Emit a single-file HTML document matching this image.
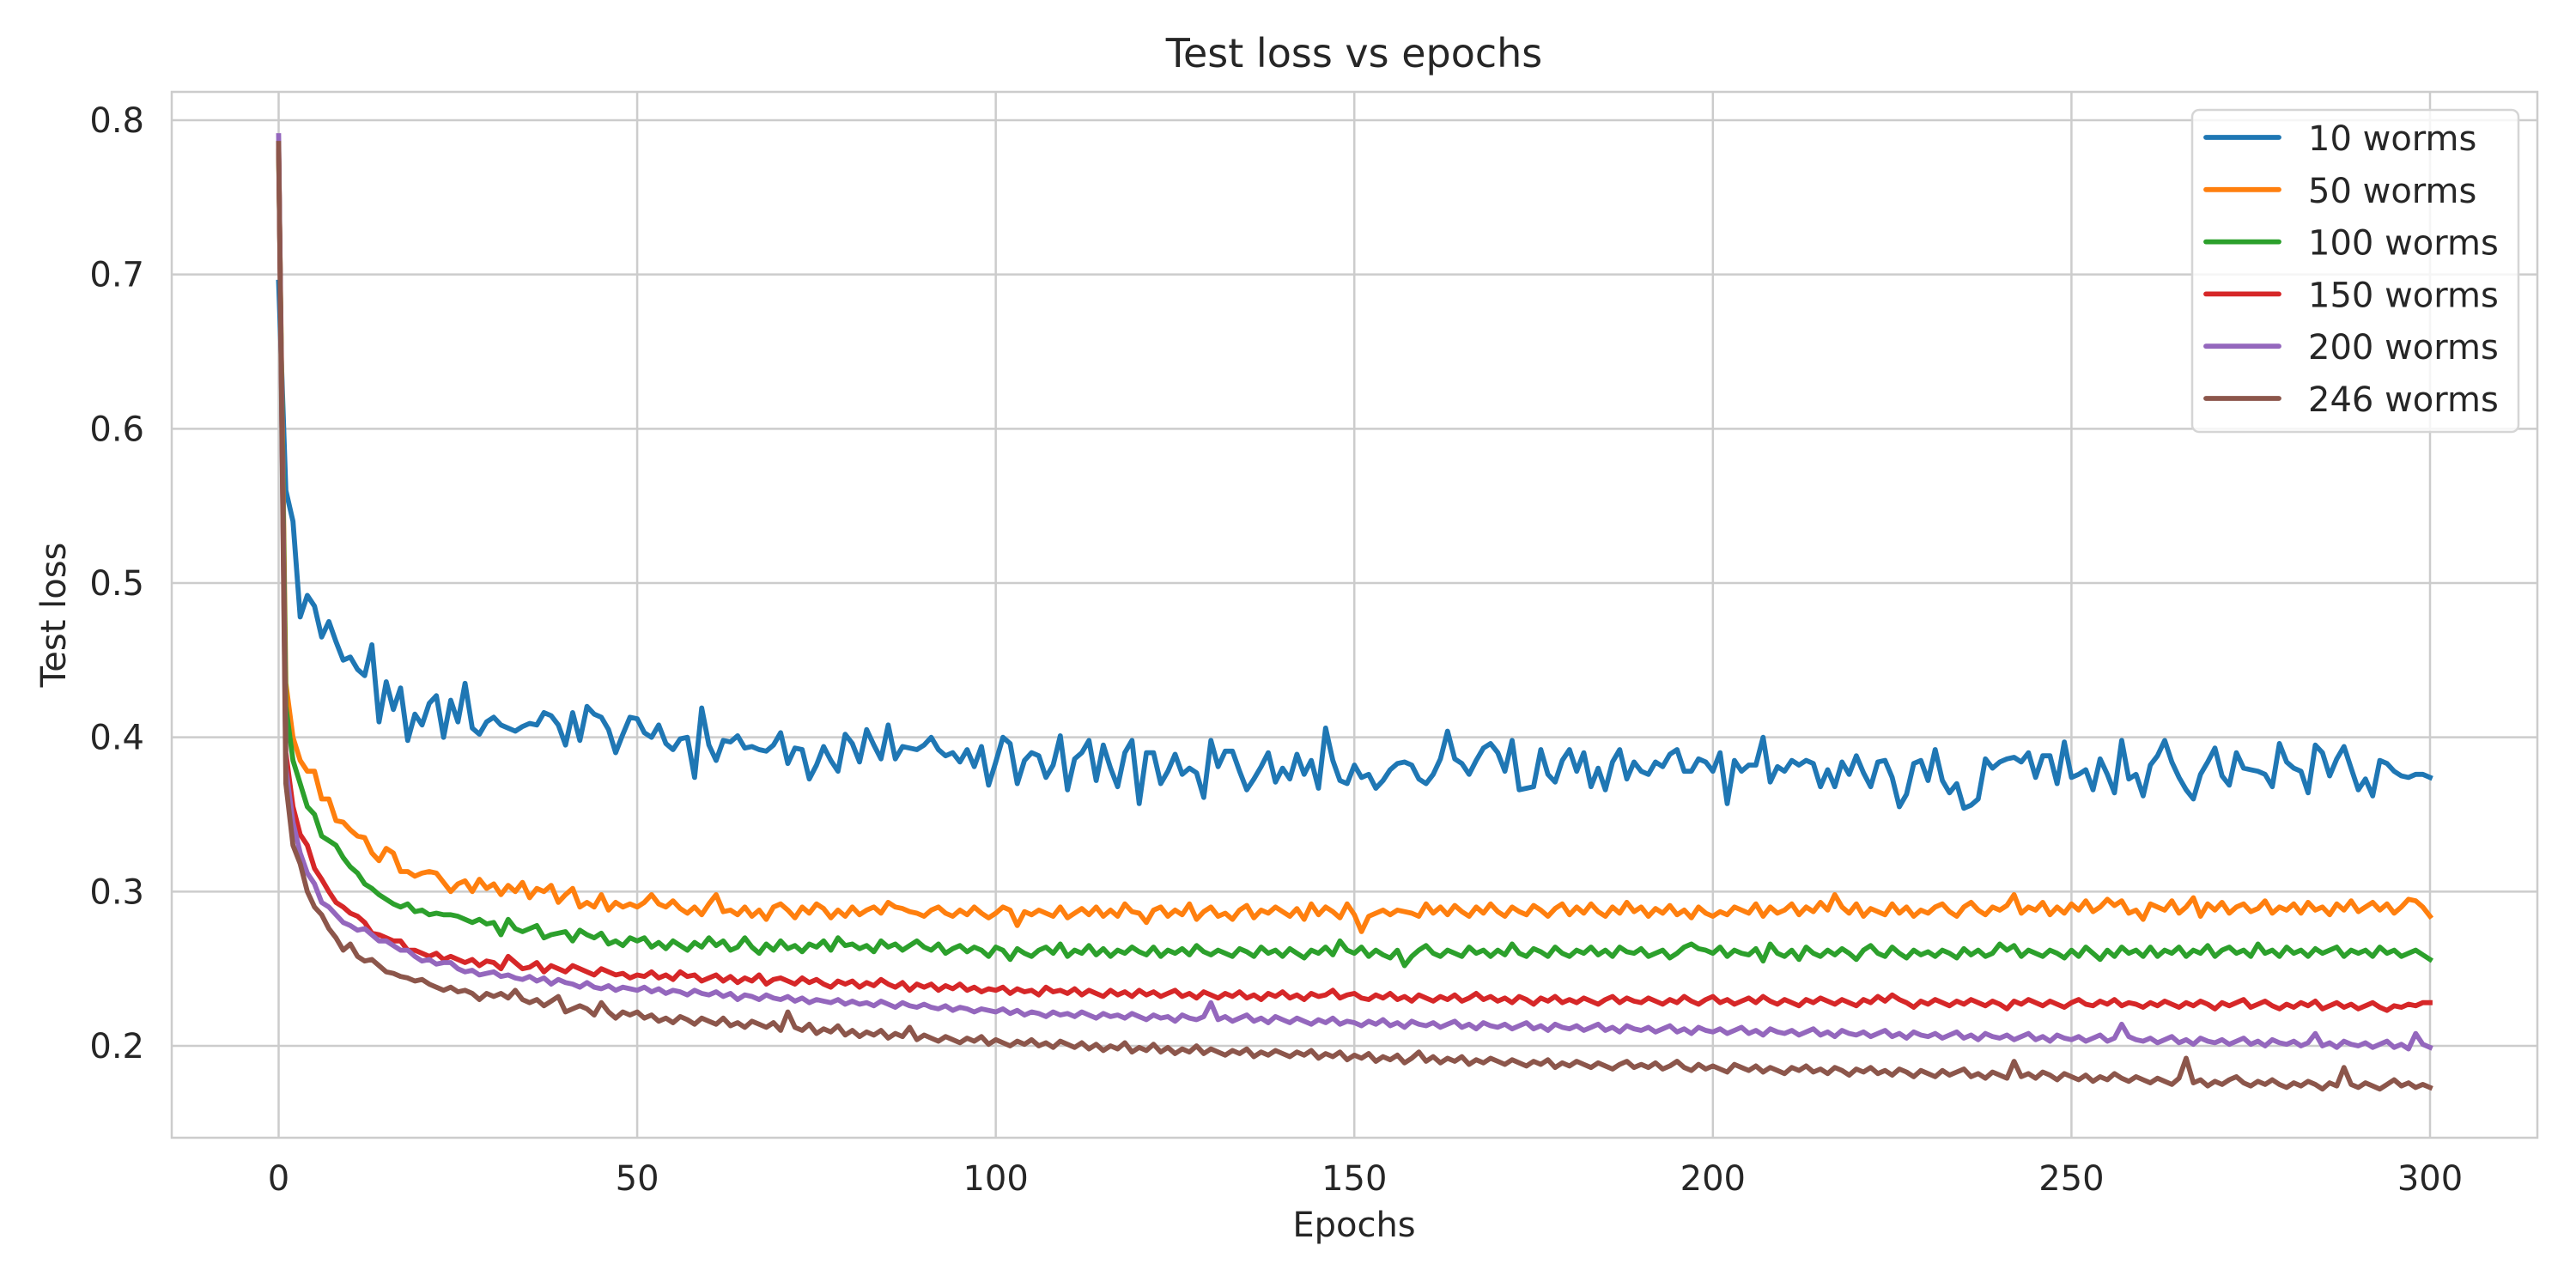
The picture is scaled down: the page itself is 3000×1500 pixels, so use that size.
<!DOCTYPE html>
<html><head><meta charset="utf-8"><style>
html,body{margin:0;padding:0;background:#fff;}
svg{display:block;font-family:"DejaVu Sans","Liberation Sans",sans-serif;}
</style></head><body>
<svg id="chart" width="3000" height="1500" viewBox="0 0 3000 1500" xmlns="http://www.w3.org/2000/svg">
<rect x="0" y="0" width="3000" height="1500" fill="#fff"/>
<g id="grid"></g>
<g id="series"></g>
<rect x="200" y="107" width="2755" height="1218" fill="none" stroke="#cccccc" stroke-width="2.5"/>
<g id="ticks" fill="#262626" font-size="40"></g>
<text x="1577" y="78" text-anchor="middle" font-size="46" fill="#262626">Test loss vs epochs</text>
<text x="1577" y="1440" text-anchor="middle" font-size="40" fill="#262626">Epochs</text>
<text transform="translate(76,716) rotate(-90)" text-anchor="middle" font-size="40" fill="#262626">Test loss</text>
<g id="legend"></g>
</svg>
<script>
const seriesNames=["10 worms","50 worms","100 worms","150 worms","200 worms","246 worms"];
const seriesColors=["#1f77b4","#ff7f0e","#2ca02c","#d62728","#9467bd","#8c564b"];
const xTicks=[0,50,100,150,200,250,300];
const yTicks=[0.2,0.3,0.4,0.5,0.6,0.7,0.8];
const yTickLabels=["0.2","0.3","0.4","0.5","0.6","0.7","0.8"];
const loss10=[.695,.560,.540,.478,.492,.485,.465,.475,.462,.450,
.452,.444,.440,.460,.410,.436,.418,.432,.398,.415,
.408,.422,.427,.400,.424,.410,.435,.406,.402,.410,
.413,.408,.406,.404,.407,.409,.408,.416,.414,.408,
.395,.416,.398,.420,.415,.413,.405,.390,.402,.413,
.412,.403,.400,.408,.396,.392,.399,.400,.374,.419,
.395,.385,.398,.397,.401,.393,.394,.392,.391,.395,
.403,.383,.393,.392,.373,.382,.394,.385,.378,.402,
.396,.384,.405,.395,.386,.408,.386,.394,.393,.392,
.395,.400,.392,.388,.390,.384,.392,.381,.394,.369,
.384,.400,.396,.370,.385,.390,.388,.374,.382,.401,
.366,.386,.390,.398,.372,.395,.380,.368,.390,.398,
.357,.390,.390,.370,.378,.389,.376,.380,.377,.361,
.398,.381,.391,.391,.378,.366,.373,.381,.390,.371,
.380,.373,.389,.376,.385,.367,.406,.385,.372,.370,
.382,.374,.376,.367,.372,.379,.383,.384,.382,.373,
.370,.376,.386,.404,.386,.383,.376,.385,.393,.396,
.390,.378,.398,.366,.367,.368,.392,.376,.371,.385,
.392,.378,.390,.368,.380,.366,.384,.392,.373,.384,
.378,.376,.384,.381,.389,.392,.378,.378,.386,.384,
.378,.390,.357,.385,.378,.382,.382,.400,.371,.381,
.378,.385,.382,.385,.383,.368,.379,.368,.384,.376,
.388,.377,.368,.384,.385,.374,.355,.363,.383,.385,
.372,.392,.372,.364,.370,.354,.356,.360,.386,.380,
.384,.386,.387,.384,.390,.374,.388,.388,.370,.397,
.374,.376,.379,.366,.386,.376,.364,.398,.373,.376,
.362,.382,.388,.398,.384,.374,.366,.360,.376,.384,
.393,.375,.369,.390,.380,.379,.378,.376,.368,.396,
.384,.380,.378,.364,.395,.390,.375,.386,.394,.380,
.366,.373,.362,.385,.383,.378,.375,.374,.376,.376,
.374];
const loss50=[.780,.435,.400,.385,.378,.378,.360,.360,.346,.345,
.340,.336,.335,.325,.320,.328,.325,.313,.313,.310,
.312,.313,.312,.306,.300,.305,.307,.300,.308,.302,
.305,.298,.304,.300,.306,.296,.302,.300,.304,.293,
.298,.302,.290,.293,.290,.298,.288,.293,.290,.292,
.290,.293,.298,.292,.290,.294,.289,.286,.290,.285,
.292,.298,.287,.288,.285,.290,.284,.288,.282,.290,
.292,.288,.283,.290,.286,.292,.289,.283,.288,.284,
.290,.285,.288,.290,.286,.293,.290,.289,.287,.286,
.284,.288,.290,.286,.284,.288,.285,.290,.286,.283,
.286,.290,.288,.278,.287,.285,.288,.286,.284,.290,
.283,.286,.289,.285,.290,.284,.288,.284,.292,.287,
.286,.280,.288,.290,.284,.288,.285,.292,.282,.287,
.290,.284,.286,.282,.288,.291,.283,.288,.286,.290,
.287,.284,.289,.282,.292,.285,.290,.287,.283,.292,
.285,.274,.284,.286,.288,.285,.288,.287,.286,.284,
.292,.286,.290,.285,.291,.287,.284,.290,.286,.292,
.287,.284,.290,.287,.285,.291,.288,.284,.289,.292,
.285,.290,.286,.292,.287,.284,.290,.286,.293,.287,
.290,.284,.289,.286,.291,.285,.288,.283,.290,.286,
.284,.287,.285,.290,.288,.286,.292,.284,.290,.286,
.288,.292,.285,.290,.287,.293,.288,.298,.290,.286,
.292,.284,.289,.287,.285,.292,.286,.290,.284,.288,
.286,.290,.292,.287,.284,.290,.293,.288,.285,.290,
.288,.291,.298,.286,.290,.288,.293,.285,.290,.286,
.292,.288,.294,.287,.290,.295,.291,.294,.286,.288,
.282,.292,.290,.288,.294,.286,.290,.296,.284,.292,
.288,.293,.286,.290,.292,.287,.289,.294,.286,.290,
.288,.292,.286,.293,.288,.290,.285,.292,.288,.294,
.287,.290,.293,.288,.292,.286,.290,.295,.294,.290,
.284];
const loss100=[.780,.420,.385,.370,.355,.350,.336,.333,.330,.322,
.316,.312,.305,.302,.298,.295,.292,.290,.292,.287,
.288,.285,.286,.285,.285,.284,.282,.280,.282,.279,
.280,.272,.282,.276,.274,.276,.278,.270,.272,.273,
.274,.268,.275,.272,.270,.273,.266,.268,.265,.270,
.268,.270,.264,.267,.263,.268,.265,.262,.267,.264,
.270,.265,.268,.262,.264,.270,.264,.260,.266,.262,
.268,.263,.265,.261,.266,.264,.268,.262,.270,.265,
.266,.263,.265,.261,.268,.264,.266,.262,.265,.268,
.264,.262,.266,.260,.263,.265,.261,.264,.262,.258,
.264,.262,.256,.263,.260,.258,.262,.264,.260,.266,
.258,.262,.260,.265,.259,.263,.258,.262,.260,.264,
.261,.259,.264,.258,.262,.260,.263,.259,.265,.261,
.259,.262,.260,.258,.263,.261,.258,.264,.260,.262,
.258,.263,.260,.257,.262,.260,.264,.259,.268,.262,
.260,.264,.258,.262,.259,.257,.262,.252,.258,.262,
.265,.260,.258,.262,.260,.258,.264,.260,.262,.258,
.262,.259,.266,.260,.258,.263,.261,.258,.264,.260,
.258,.262,.260,.264,.259,.262,.258,.264,.261,.260,
.263,.258,.260,.262,.257,.260,.264,.266,.263,.262,
.260,.264,.258,.262,.260,.259,.263,.255,.266,.260,
.258,.262,.256,.264,.260,.258,.262,.259,.263,.260,
.256,.262,.265,.260,.258,.264,.260,.257,.262,.259,
.261,.258,.262,.260,.257,.263,.259,.262,.258,.260,
.266,.262,.265,.258,.262,.260,.258,.262,.260,.257,
.262,.258,.264,.260,.256,.262,.258,.264,.260,.262,
.258,.264,.258,.262,.260,.264,.258,.262,.260,.265,
.258,.262,.264,.260,.262,.258,.266,.260,.262,.258,
.264,.260,.262,.258,.263,.260,.262,.264,.258,.262,
.260,.262,.258,.264,.260,.262,.258,.260,.262,.259,
.256];
const loss150=[.785,.390,.355,.337,.330,.315,.308,.300,.293,.290,
.286,.284,.280,.273,.272,.270,.268,.268,.262,.262,
.260,.258,.260,.256,.258,.256,.254,.256,.252,.255,
.254,.250,.258,.254,.250,.251,.254,.248,.252,.250,
.248,.252,.250,.248,.246,.250,.248,.246,.247,.244,
.246,.245,.248,.244,.246,.243,.248,.245,.246,.242,
.244,.246,.242,.245,.241,.244,.242,.246,.240,.243,
.244,.242,.240,.244,.241,.243,.240,.238,.242,.240,
.242,.238,.241,.239,.243,.240,.238,.241,.236,.240,
.238,.240,.236,.239,.237,.240,.236,.238,.235,.237,
.236,.238,.234,.237,.235,.236,.233,.238,.235,.236,
.234,.237,.233,.236,.234,.232,.236,.233,.235,.232,
.236,.233,.235,.232,.234,.236,.232,.234,.231,.235,
.233,.231,.234,.232,.235,.231,.233,.230,.234,.232,
.235,.231,.233,.230,.234,.232,.233,.236,.231,.233,
.234,.231,.230,.233,.231,.234,.230,.232,.229,.233,
.231,.229,.232,.230,.233,.229,.231,.234,.230,.232,
.229,.231,.228,.232,.230,.227,.231,.229,.232,.228,
.230,.228,.231,.229,.227,.230,.232,.228,.231,.229,
.228,.231,.229,.227,.230,.228,.232,.229,.227,.230,
.232,.228,.230,.227,.229,.231,.228,.232,.229,.227,
.230,.228,.226,.230,.228,.231,.229,.227,.230,.228,
.226,.230,.228,.232,.229,.233,.230,.228,.225,.229,
.227,.230,.228,.226,.229,.227,.230,.228,.226,.229,
.227,.224,.229,.227,.230,.228,.226,.229,.227,.225,
.228,.230,.227,.226,.229,.227,.230,.226,.228,.227,
.225,.228,.226,.229,.227,.225,.228,.226,.229,.227,
.224,.228,.226,.228,.230,.225,.227,.229,.226,.224,
.227,.225,.228,.226,.229,.224,.226,.228,.225,.227,
.224,.226,.228,.225,.223,.226,.225,.227,.226,.228,
.228];
const loss200=[.790,.380,.345,.325,.312,.305,.293,.290,.285,.280,
.278,.275,.276,.272,.268,.268,.265,.262,.262,.258,
.255,.256,.253,.254,.254,.250,.248,.249,.246,.247,
.248,.245,.246,.244,.243,.245,.242,.244,.240,.243,
.241,.240,.238,.241,.238,.237,.239,.236,.238,.237,
.236,.238,.235,.237,.234,.236,.235,.233,.236,.234,
.233,.235,.232,.234,.230,.233,.232,.230,.233,.231,
.230,.232,.229,.231,.228,.230,.229,.228,.230,.227,
.229,.227,.228,.226,.229,.227,.225,.228,.226,.225,
.227,.225,.224,.226,.223,.225,.224,.222,.224,.223,
.222,.224,.221,.223,.220,.222,.221,.219,.222,.220,
.221,.219,.222,.220,.218,.221,.219,.220,.218,.221,
.219,.217,.220,.218,.219,.216,.220,.218,.217,.219,
.228,.217,.219,.216,.218,.220,.216,.218,.215,.219,
.217,.215,.218,.216,.214,.217,.215,.218,.214,.216,
.215,.213,.216,.214,.217,.213,.215,.212,.216,.214,
.213,.215,.212,.214,.216,.212,.214,.211,.215,.213,
.212,.214,.211,.213,.215,.211,.213,.210,.214,.212,
.211,.213,.210,.212,.214,.210,.212,.209,.213,.211,
.210,.212,.209,.211,.213,.209,.211,.208,.212,.210,
.209,.211,.208,.210,.212,.208,.210,.207,.211,.209,
.208,.210,.207,.209,.211,.207,.209,.206,.210,.208,
.207,.209,.206,.208,.210,.206,.208,.205,.209,.207,
.206,.208,.205,.207,.209,.205,.207,.204,.208,.206,
.205,.207,.204,.206,.208,.204,.206,.203,.207,.205,
.204,.206,.203,.205,.207,.203,.205,.214,.206,.204,
.203,.205,.202,.204,.206,.202,.204,.201,.205,.203,
.202,.204,.201,.203,.205,.201,.203,.200,.204,.202,
.201,.203,.200,.202,.208,.200,.202,.199,.203,.201,
.200,.202,.199,.201,.203,.199,.201,.198,.208,.201,
.199];
const loss246=[.785,.370,.330,.318,.300,.290,.285,.276,.270,.262,
.266,.258,.255,.256,.252,.248,.247,.245,.244,.242,
.243,.240,.238,.236,.238,.235,.236,.234,.230,.234,
.232,.234,.231,.236,.230,.228,.230,.226,.229,.232,
.222,.224,.226,.224,.220,.228,.222,.218,.222,.220,
.222,.218,.220,.216,.218,.215,.219,.217,.214,.218,
.216,.214,.218,.213,.215,.212,.216,.214,.212,.215,
.210,.222,.212,.210,.214,.208,.211,.209,.213,.207,
.210,.206,.209,.207,.210,.205,.208,.206,.212,.204,
.207,.205,.203,.206,.204,.202,.205,.203,.206,.201,
.204,.202,.200,.203,.201,.204,.200,.202,.199,.203,
.201,.199,.202,.198,.201,.197,.200,.198,.202,.196,
.199,.197,.201,.196,.199,.195,.198,.196,.200,.195,
.198,.196,.194,.197,.195,.198,.193,.196,.194,.197,
.195,.193,.196,.194,.197,.192,.195,.193,.196,.191,
.194,.192,.195,.190,.193,.191,.194,.189,.192,.196,
.190,.193,.189,.192,.190,.193,.188,.191,.189,.192,
.190,.188,.191,.189,.187,.190,.188,.191,.186,.189,
.187,.190,.188,.186,.189,.187,.185,.188,.190,.186,
.188,.186,.189,.185,.187,.190,.186,.184,.188,.185,
.187,.185,.183,.188,.186,.184,.187,.183,.186,.184,
.182,.186,.184,.187,.183,.185,.182,.186,.184,.181,
.185,.183,.186,.182,.184,.181,.185,.183,.180,.184,
.182,.180,.184,.181,.183,.185,.180,.182,.179,.183,
.181,.179,.190,.180,.182,.179,.183,.181,.178,.182,
.180,.178,.181,.177,.180,.178,.182,.179,.177,.180,
.178,.176,.179,.177,.175,.179,.192,.176,.178,.174,
.177,.175,.178,.180,.176,.174,.177,.175,.178,.175,
.173,.176,.174,.177,.175,.172,.176,.174,.186,.175,
.173,.176,.174,.172,.175,.178,.174,.176,.173,.175,
.173];
const seriesData=[loss10,loss50,loss100,loss150,loss200,loss246];

const NS="http://www.w3.org/2000/svg";
const PL=200,PR=2955,PT=107,PB=1325;
const X0=324.5,X1=2830;
const Y02=1218,Y08=140;
function xs(v){return X0+(v-0)/(300-0)*(X1-X0);}
function ys(v){return Y02+(v-0.2)/(0.8-0.2)*(Y08-Y02);}
function mk(tag,attrs,parent){const e=document.createElementNS(NS,tag);for(const k in attrs)e.setAttribute(k,attrs[k]);parent.appendChild(e);return e;}

const grid=document.getElementById('grid');
const ticks=document.getElementById('ticks');
xTicks.forEach(t=>{
  const l=mk('line',{x1:xs(t),x2:xs(t),y1:PT,y2:PB,stroke:'#cccccc','stroke-width':2.5},grid);
  
  
  const tx=mk('text',{x:xs(t),y:1386,'text-anchor':'middle'},ticks);
  tx.textContent=String(t);
  
  
});
yTicks.forEach((t,i)=>{
  const l=mk('line',{x1:PL,x2:PR,y1:ys(t),y2:ys(t),stroke:'#cccccc','stroke-width':2.5},grid);
  
  
  const tx=mk('text',{x:168,y:ys(t)+14,'text-anchor':'end'},ticks);
  tx.textContent=yTickLabels[i];
  
  
});

const sg=document.getElementById('series');
seriesData.forEach((arr,si)=>{
  const pts=arr.map((v,i)=>xs(i).toFixed(1)+','+ys(v).toFixed(1)).join(' ');
  const p=mk('polyline',{points:pts,fill:'none',stroke:seriesColors[si],'stroke-width':5.8,'stroke-linejoin':'round','stroke-linecap':'square'},sg);
  
  
});

const lg=document.getElementById('legend');
const box=mk('rect',{x:2553,y:128,width:380,height:375,rx:8,fill:'#ffffff','fill-opacity':0.8,stroke:'#d5d5d5','stroke-width':2.5},lg);


seriesNames.forEach((n,i)=>{
  const cy=160+i*60.8;
  const l=mk('line',{x1:2569,x2:2654,y1:cy,y2:cy,stroke:seriesColors[i],'stroke-width':5.8,'stroke-linecap':'round'},lg);
  
  
  const t=mk('text',{x:2688,y:cy+15,'font-size':40,fill:'#262626'},lg);
  t.textContent=n;
  
  
});
</script>
</body></html>
